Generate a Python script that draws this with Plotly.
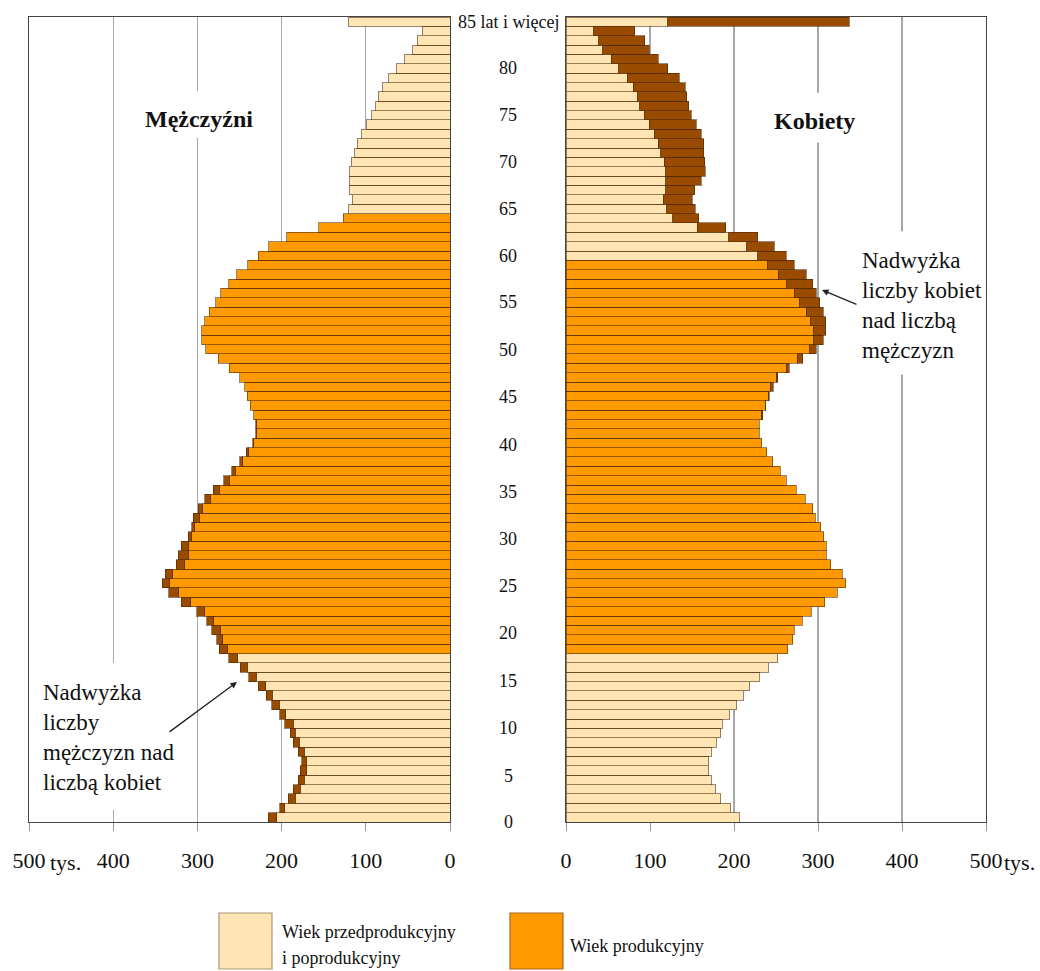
import plotly.graph_objects as go

# ---------------- data (thousands) ----------------
ages = list(range(0, 86))
age_tick_vals = [0, 5, 10, 15, 20, 25, 30, 35, 40, 45, 50, 55, 60, 65, 70, 75, 80, 85]
age_tick_text = ["0", "5", "10", "15", "20", "25", "30", "35", "40", "45", "50",
                 "55", "60", "65", "70", "75", "80", "85 lat i więcej"]

men = [216, 202, 192, 186, 180, 178, 176, 180, 186, 190,
       196, 202, 212, 218, 228, 239, 249, 263, 274, 277,
       283, 289, 301, 319, 334, 342, 338, 325, 323, 319,
       311, 307, 305, 299, 291, 281, 269, 259, 250, 242,
       234, 231, 231, 233, 237, 241, 244, 250, 262, 275,
       290, 295, 295, 291, 286, 278, 272, 263, 253, 240,
       228, 215, 194, 156, 127, 120, 116, 119, 119, 119,
       117, 113, 110, 105, 99, 93, 88, 85, 80, 73,
       63, 54, 44, 39, 33, 121]

women = [206, 196, 184, 178, 173, 170, 170, 173, 179, 184,
         186, 195, 203, 211, 219, 230, 241, 252, 264, 270,
         272, 281, 292, 308, 323, 333, 329, 315, 310, 310,
         307, 303, 297, 294, 285, 274, 262, 255, 246, 239,
         233, 230, 230, 234, 238, 242, 247, 252, 266, 282,
         298, 306, 309, 309, 306, 302, 298, 294, 286, 272,
         262, 248, 228, 190, 158, 154, 150, 153, 161, 166,
         165, 164, 164, 161, 155, 149, 146, 144, 142, 135,
         121, 110, 99, 94, 82, 337]

men_productive = (18, 64)
women_productive = (18, 59)

x_tick_vals = [0, 100, 200, 300, 400, 500]
x_tick_left = ["0", "100", "200", "300", "400", "500"]
x_tick_right = ["0", "100", "200", "300", "400", "500"]

legend_labels = ["Wiek przedprodukcyjny", "i poprodukcyjny", "Wiek produkcyjny"]

# ---------------- styling ----------------
LIGHT = "#FFE5B4"
ORANGE = "#FF9900"
BROWN = "#994C00"
EDGE = "rgba(70,35,0,0.55)"
FONT = "Liberation Serif"
W, H = 1040, 971


def px_x(p):
    return p / W


def px_y(p):
    return 1 - p / H


base_common = [min(m, w) for m, w in zip(men, women)]
surplus_m = [(m - w) if m > w else None for m, w in zip(men, women)]
surplus_w = [(w - m) if w > m else None for m, w in zip(men, women)]
col_m = [ORANGE if men_productive[0] <= a <= men_productive[1] else LIGHT for a in ages]
col_w = [ORANGE if women_productive[0] <= a <= women_productive[1] else LIGHT for a in ages]

fig = go.Figure()
fig.add_trace(go.Bar(y=ages, x=base_common, orientation="h", xaxis="x", yaxis="y",
                     marker=dict(color=col_m, line=dict(color=EDGE, width=1)),
                     showlegend=False, hoverinfo="skip"))
fig.add_trace(go.Bar(y=ages, x=surplus_m, orientation="h", xaxis="x", yaxis="y",
                     marker=dict(color=BROWN, line=dict(color=EDGE, width=1)),
                     showlegend=False, hoverinfo="skip"))
fig.add_trace(go.Bar(y=ages, x=base_common, orientation="h", xaxis="x2", yaxis="y2",
                     marker=dict(color=col_w, line=dict(color=EDGE, width=1)),
                     showlegend=False, hoverinfo="skip"))
fig.add_trace(go.Bar(y=ages, x=surplus_w, orientation="h", xaxis="x2", yaxis="y2",
                     marker=dict(color=BROWN, line=dict(color=EDGE, width=1)),
                     showlegend=False, hoverinfo="skip"))

ydom = [px_y(822), px_y(17)]
xaxis_common = dict(tickvals=x_tick_vals, showgrid=True, gridcolor="#A8A8A8", gridwidth=1.2,
                    showline=True, mirror=True, linecolor="#444", linewidth=1.2,
                    ticks="outside", ticklen=8, tickcolor="#999", tickwidth=1,
                    tickfont=dict(family=FONT, size=22, color="#111"),
                    ticklabelstandoff=10, zeroline=False, fixedrange=True,
                    automargin=False)
yaxis_common = dict(range=[-0.5, 85.5], showticklabels=False, showgrid=False, ticks="",
                    showline=True, mirror=True, linecolor="#444", linewidth=1.2,
                    zeroline=False, domain=ydom, automargin=False, fixedrange=True)

fig.update_layout(
    template="none",
    width=W, height=H, margin=dict(l=0, r=0, t=0, b=0, pad=0), autosize=False,
    paper_bgcolor="white", plot_bgcolor="white",
    barmode="stack", bargap=0, showlegend=False,
    font=dict(family=FONT, color="#111"),
    xaxis=dict(domain=[px_x(29), px_x(450)], range=[500, 0], ticktext=x_tick_left,
               anchor="y", **xaxis_common),
    yaxis=dict(anchor="x", **yaxis_common),
    xaxis2=dict(domain=[px_x(566), px_x(986)], range=[0, 500], ticktext=x_tick_right,
                anchor="y2", **xaxis_common),
    yaxis2=dict(anchor="x2", **yaxis_common),
)

shapes = []
# white gaps in gridlines behind text blocks
shapes.append(dict(type="rect", xref="x", yref="y", x0=285, x1=315, y0=72.6, y1=77.6,
                   fillcolor="white", line=dict(width=0), layer="above"))
shapes.append(dict(type="rect", xref="x2", yref="y2", x0=285, x1=315, y0=72.1, y1=77.4,
                   fillcolor="white", line=dict(width=0), layer="above"))
shapes.append(dict(type="rect", xref="x2", yref="y2", x0=385, x1=415, y0=47.3, y1=62.6,
                   fillcolor="white", line=dict(width=0), layer="above"))
shapes.append(dict(type="rect", xref="x", yref="y", x0=385, x1=415, y0=0.8, y1=16.5,
                   fillcolor="white", line=dict(width=0), layer="above"))
# legend swatches
shapes.append(dict(type="rect", xref="paper", yref="paper", x0=px_x(219), x1=px_x(272),
                   y0=px_y(969), y1=px_y(913), fillcolor=LIGHT,
                   line=dict(color="#A89878", width=1.2)))
shapes.append(dict(type="rect", xref="paper", yref="paper", x0=px_x(510), x1=px_x(563),
                   y0=px_y(969), y1=px_y(913), fillcolor=ORANGE,
                   line=dict(color="#A86A20", width=1.2)))
fig.update_layout(shapes=shapes)

ann = []
for a, t in zip(age_tick_vals, age_tick_text):
    shift = -round(5 * (60 - a) / 60) if a < 60 else 0
    ann.append(dict(xref="paper", yref="y", x=px_x(508), y=a, text=t, showarrow=False,
                    xanchor="center", yanchor="middle", yshift=shift,
                    font=dict(family=FONT, size=18, color="#111")))

ann.append(dict(xref="paper", yref="paper", x=px_x(199), y=px_y(119), text="<b>Mężczyźni</b>",
                showarrow=False, xanchor="center", yanchor="middle",
                font=dict(family=FONT, size=24, color="#111")))
ann.append(dict(xref="paper", yref="paper", x=px_x(814), y=px_y(121), text="<b>Kobiety</b>",
                showarrow=False, xanchor="center", yanchor="middle",
                font=dict(family=FONT, size=24, color="#111")))
ann.append(dict(xref="paper", yref="paper", x=px_x(860), y=px_y(305),
                text="Nadwyżka<br>liczby kobiet<br>nad liczbą<br>mężczyzn",
                showarrow=False, xanchor="left", align="left", yanchor="middle",
                font=dict(family=FONT, size=23, color="#111")))
ann.append(dict(xref="paper", yref="paper", x=px_x(41), y=px_y(737),
                text="Nadwyżka<br>liczby<br>mężczyzn nad<br>liczbą kobiet",
                showarrow=False, xanchor="left", align="left", yanchor="middle",
                font=dict(family=FONT, size=23, color="#111")))
# arrows
ann.append(dict(xref="paper", yref="paper", x=px_x(822), y=px_y(290), text="",
                showarrow=True, ax=36, ay=15, arrowhead=2, arrowsize=1, arrowwidth=1.3,
                arrowcolor="#222"))
ann.append(dict(xref="paper", yref="paper", x=px_x(237), y=px_y(682), text="",
                showarrow=True, ax=-69, ay=51, arrowhead=2, arrowsize=1, arrowwidth=1.3,
                arrowcolor="#222"))
# "tys." unit suffixes
ann.append(dict(xref="paper", yref="paper", x=px_x(48), y=px_y(862), text="tys.",
                showarrow=False, xanchor="left", yanchor="middle",
                font=dict(family=FONT, size=22, color="#111")))
ann.append(dict(xref="paper", yref="paper", x=px_x(1002), y=px_y(862), text="tys.",
                showarrow=False, xanchor="left", yanchor="middle",
                font=dict(family=FONT, size=22, color="#111")))
# legend text
ann.append(dict(xref="paper", yref="paper", x=px_x(280), y=px_y(932), text=legend_labels[0],
                showarrow=False, xanchor="left", yanchor="middle",
                font=dict(family=FONT, size=18, color="#111")))
ann.append(dict(xref="paper", yref="paper", x=px_x(280), y=px_y(958), text=legend_labels[1],
                showarrow=False, xanchor="left", yanchor="middle",
                font=dict(family=FONT, size=18, color="#111")))
ann.append(dict(xref="paper", yref="paper", x=px_x(568), y=px_y(946), text=legend_labels[2],
                showarrow=False, xanchor="left", yanchor="middle",
                font=dict(family=FONT, size=18, color="#111")))
fig.update_layout(annotations=ann)

fig.write_html("out.html", config={"displayModeBar": False, "staticPlot": True},
               post_script="document.body.style.margin='0px';")
